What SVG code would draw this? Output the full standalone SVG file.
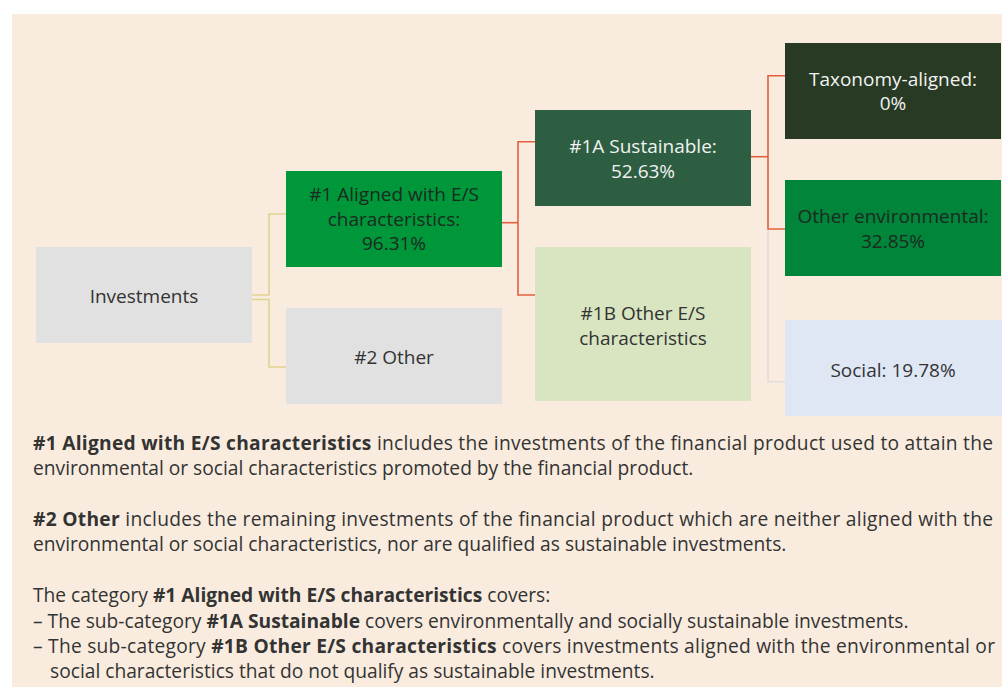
<svg xmlns="http://www.w3.org/2000/svg" width="1002" height="687" viewBox="0 0 1002 687">
  <style>
    .nt { font-family: "Open Sans", "Noto Sans", sans-serif; font-size: 19px; text-anchor: middle; }
    .dark { fill: #333333; }
    .ink { fill: #1c2a20; }
    .light { fill: #f2f2f2; }
    .body { font-family: "Open Sans", "Noto Sans", sans-serif; font-size: 19.2px; fill: #333333; }
    .b { font-weight: 700; }
    .c-tan { fill: none; stroke: #e0d38e; stroke-width: 1.6; }
    .c-red { fill: none; stroke: #e2603f; stroke-width: 1.6; }
    .c-grey { fill: none; stroke: #dedede; stroke-width: 1.6; }
  </style>

  <!-- page and panel background -->
  <rect x="0" y="0" width="1002" height="687" fill="#ffffff"/>
  <rect x="12" y="14" width="990" height="673" fill="#f9ecde"/>

  <!-- tree connectors -->
  <g id="connectors">
    <polyline class="c-tan" points="252,295 269,295 269,214 286,214"/>
    <polyline class="c-tan" points="252,299.5 269,299.5 269,367 286,367"/>
    <polyline class="c-red" points="502,222.7 518,222.7"/>
    <polyline class="c-red" points="535,141.7 518,141.7 518,295 535,295"/>
    <polyline class="c-red" points="751,156.7 768,156.7"/>
    <polyline class="c-red" points="785,75.7 768,75.7 768,229 785,229"/>
    <polyline class="c-grey" points="768,230 768,381.7 785,381.7"/>
  </g>

  <g id="node-investments">
    <rect x="36" y="247" width="216" height="96" fill="#e1e1e1"/>
    <text class="nt dark" x="144" y="303">Investments</text>
  </g>

  <g id="node-aligned">
    <rect x="286" y="171" width="216" height="96" fill="#00973a"/>
    <text class="nt ink" x="394" y="201">#1 Aligned with E/S</text>
    <text class="nt ink" x="394" y="225.5">characteristics:</text>
    <text class="nt ink" x="394" y="250">96.31%</text>
  </g>

  <g id="node-other">
    <rect x="286" y="308" width="216" height="96" fill="#e1e1e1"/>
    <text class="nt dark" x="394" y="364">#2 Other</text>
  </g>

  <g id="node-sustainable">
    <rect x="535" y="110" width="216" height="96" fill="#2d5e41"/>
    <text class="nt light" x="643" y="153.3">#1A Sustainable:</text>
    <text class="nt light" x="643" y="178.3">52.63%</text>
  </g>

  <g id="node-other-es">
    <rect x="535" y="247" width="216" height="154" fill="#d8e5c0"/>
    <text class="nt dark" x="643" y="320">#1B Other E/S</text>
    <text class="nt dark" x="643" y="345">characteristics</text>
  </g>

  <g id="node-taxonomy">
    <rect x="785" y="43" width="216" height="96" fill="#283a23"/>
    <text class="nt light" x="893" y="86">Taxonomy-aligned:</text>
    <text class="nt light" x="893" y="110">0%</text>
  </g>

  <g id="node-other-env">
    <rect x="785" y="180" width="216" height="96" fill="#00853a"/>
    <text class="nt ink" x="893" y="223.3">Other environmental:</text>
    <text class="nt ink" x="893" y="248.3">32.85%</text>
  </g>

  <g id="node-social">
    <rect x="785" y="320" width="217" height="96" fill="#dfe7f5"/>
    <text class="nt dark" x="893" y="376.7">Social: 19.78%</text>
  </g>

  <!-- explanatory notes -->
  <g id="notes">
    <text class="body" x="33" y="449.7" textLength="960"><tspan class="b">#1 Aligned with E/S characteristics</tspan> includes the investments of the financial product used to attain the</text>
    <text class="body" x="33" y="475.1">environmental or social characteristics promoted by the financial product.</text>
    <text class="body" x="33" y="525.9" textLength="960"><tspan class="b">#2 Other</tspan> includes the remaining investments of the financial product which are neither aligned with the</text>
    <text class="body" x="33" y="551.3">environmental or social characteristics, nor are qualified as sustainable investments.</text>
    <text class="body" x="33" y="602.1">The category <tspan class="b">#1 Aligned with E/S characteristics</tspan> covers:</text>
    <text class="body" x="33" y="627.5">– The sub-category <tspan class="b">#1A Sustainable</tspan> covers environmentally and socially sustainable investments.</text>
    <text class="body" x="33" y="652.9" textLength="962">– The sub-category <tspan class="b">#1B Other E/S characteristics</tspan> covers investments aligned with the environmental or</text>
    <text class="body" x="50" y="678.3">social characteristics that do not qualify as sustainable investments.</text>
  </g>
</svg>
